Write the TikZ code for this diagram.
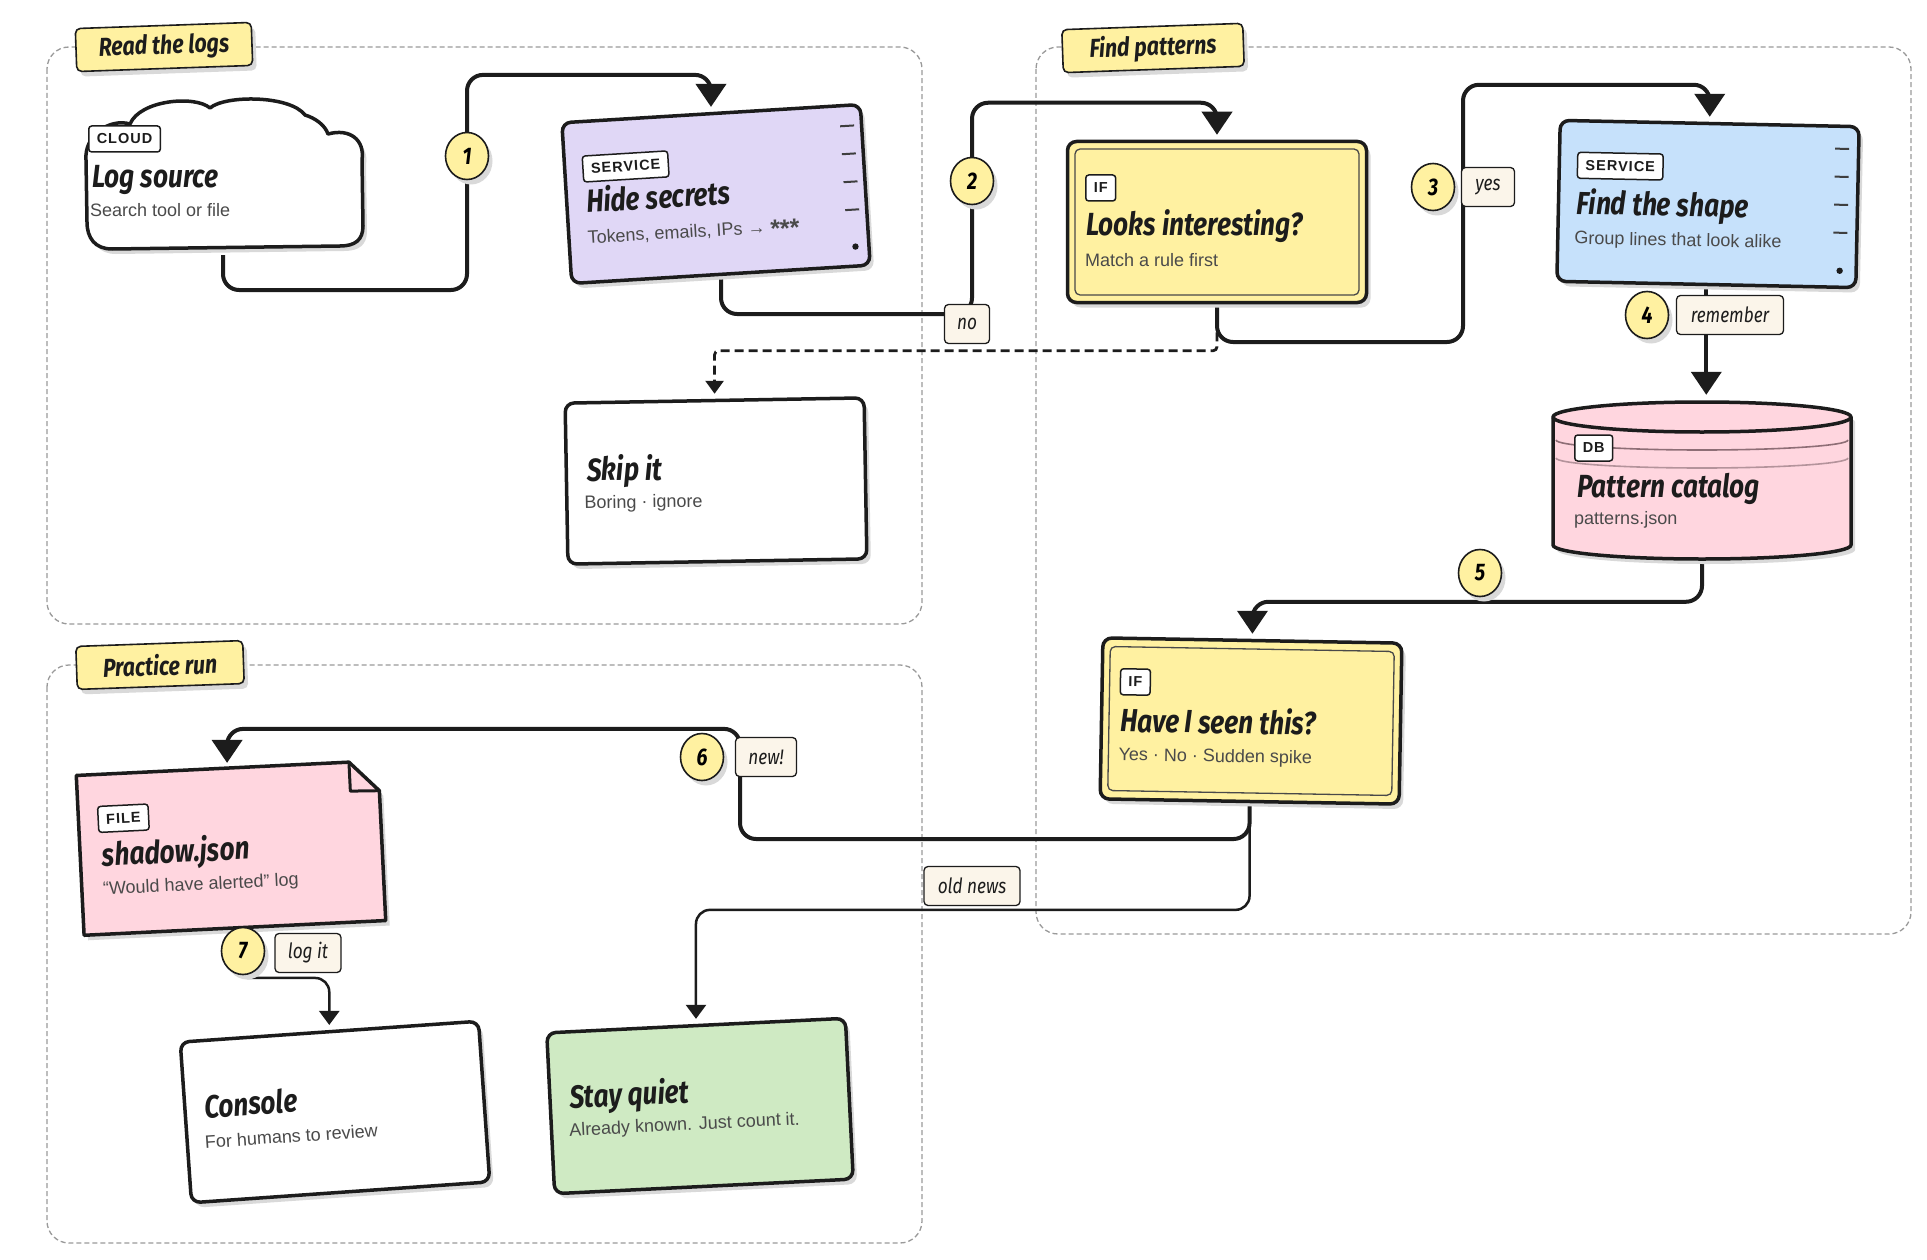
\documentclass[tikz,border=0pt]{standalone}
\usepackage{fontspec}
\setmainfont{Liberation Sans}
\newfontfamily\handfont{Fira Sans}[FakeStretch=0.82]
\usetikzlibrary{arrows.meta,shapes.geometric,shadows,calc}
\pgfdeclarelayer{bg}
\pgfdeclarelayer{lines}
\pgfsetlayers{bg,lines,main}

\definecolor{ink}{HTML}{1C1C1C}
\definecolor{yel}{HTML}{FFF1A1}
\definecolor{lav}{HTML}{E0D7F6}
\definecolor{sky}{HTML}{C6E1FB}
\definecolor{rose}{HTML}{FFD6DF}
\definecolor{rosedark}{HTML}{8E6E76}
\definecolor{roselight}{HTML}{B4939B}
\definecolor{mint}{HTML}{CFEAC3}
\definecolor{cream}{HTML}{FBF5EA}
\definecolor{subgray}{HTML}{4A4A4A}
\definecolor{grp}{HTML}{9A9A9A}
\definecolor{shd}{HTML}{D9D9D9}

\tikzset{
 softshadow/.style={drop shadow={shadow xshift=4pt, shadow yshift=-5pt, fill=shd, opacity=1}},
 card/.style={draw=ink, line width=3.5pt, rounded corners=9pt, minimum width=299pt, minimum height=161pt, inner sep=0pt, softshadow},
 ghost/.style={minimum width=300pt, minimum height=160pt, inner sep=0pt},
 pill/.style={draw=ink, fill=white, line width=1.5pt, rounded corners=3pt, inner xsep=8pt, inner ysep=0pt, minimum height=26pt, font={\bfseries\fontsize{14.5}{15}\selectfont\addfontfeature{LetterSpace=7}}, text=ink, transform shape, anchor=west},
 ttl/.style={anchor=west, inner sep=0pt, yshift=-5pt, font={\handfont\bfseries\itshape\fontsize{32}{36}\selectfont}, text=ink, transform shape, text height=22pt, text depth=6pt},
 sub/.style={anchor=west, inner sep=0pt, font={\fontsize{18}{20}\selectfont}, text=subgray, transform shape},
 tab/.style={draw=ink, fill=yel, line width=1.6pt, rounded corners=5pt, minimum height=43pt, inner xsep=14pt, font={\handfont\bfseries\itshape\fontsize{26}{30}\selectfont}, text=ink, rotate=2, softshadow},
 num/.style={ellipse, draw=ink, fill=yel, line width=1.6pt, minimum width=43pt, minimum height=47pt, inner sep=0pt, font={\handfont\bfseries\itshape\fontsize{24}{26}\selectfont}, softshadow},
 elab/.style={draw=ink, fill=cream, line width=1.3pt, rounded corners=4pt, minimum height=39pt, inner xsep=8pt, font={\handfont\itshape\fontsize{21}{24}\selectfont}, text=ink},
 group/.style={draw=grp, line width=1.3pt, dash pattern=on 5pt off 3pt, rounded corners=22pt},
 flow/.style={draw=ink, line width=4pt, rounded corners=16pt, shorten >=5pt, -{Triangle[width=30pt,length=23pt]}},
 thinflow/.style={draw=ink, line width=2.5pt, rounded corners=14pt, shorten >=5pt, -{Triangle[width=20pt,length=14pt]}},
 dashflow/.style={draw=ink, line width=2.8pt, dash pattern=on 9pt off 5pt, rounded corners=4pt, shorten >=5pt, -{Triangle[width=18pt,length=13pt]}},
 rack/.style={draw=ink!85, line width=2pt},
 innerline/.style={draw=ink!80, line width=1.3pt, rounded corners=5pt},
}
\newcommand\stars{\raisebox{-5pt}{\fontsize{25}{25}\selectfont\bfseries ***}}

\begin{document}
\begin{tikzpicture}[x=1pt,y=-1pt]
\useasboundingbox (0,0) rectangle (1927,1260);
\begin{pgfonlayer}{bg}
 \fill[white] (0,0) rectangle (1927,1260);
 \draw[group] (47,47) rectangle (922,624);
 \draw[group] (1036,47) rectangle (1911,934);
 \draw[group] (47,665) rectangle (922,1243);
\end{pgfonlayer}

% group tabs
\node[tab, minimum width=176pt] (tabA) at (164,47) {Read the logs};
\node[tab, minimum width=181pt] (tabB) at (1153,48) {Find patterns};
\node[tab, minimum width=167pt] (tabC) at (160,665) {Practice run};

% cloud: Log source
\node[inner sep=0pt, minimum width=282pt, minimum height=150pt] (cloud) at (223,180) {};
\path[draw=ink, line width=3.5pt, fill=white, softshadow, line join=round]
 (86,160) .. controls (84,135) and (110,118) .. (130,124)
 .. controls (140,100) and (195,95) .. (210,108)
 .. controls (225,95) and (290,95) .. (305,115)
 .. controls (315,118) and (325,125) .. (328,134)
 .. controls (350,128) and (365,140) .. (362,160)
 -- (363,226) .. controls (363,240) and (355,246) .. (340,246)
 -- (112,249) .. controls (95,249) and (87,238) .. (87,222)
 -- cycle;
\node[pill] (pcloud) at (88,139) {CLOUD};
\node[ttl] (tcloud) at (92,175) {Log source};
\node[sub] (scloud) at (90,210) {Search tool or file};

% Hide secrets
\node[card, fill=lav, rotate=3.5] (hide) at (716,194) {};
\begin{scope}[shift={(hide.center)}, rotate=3.5]
 \node[pill] (phide) at (-132,-33) {SERVICE};
 \node[ttl] (thide) at (-130,-2) {Hide secrets};
 \node[sub] (shide) at (-131,38) {Tokens, emails, IPs → \stars};
 \foreach \yy in {-60,-32,-4,24} \draw[rack] (128,\yy) -- (142,\yy);
 \fill[ink] (136,61) circle[radius=3.2pt];
\end{scope}

% Skip it
\node[card, fill=white, rotate=1] (skip) at (716,481) {};
\begin{scope}[shift={(skip.center)}, rotate=1]
 \node[ttl] (tskip) at (-129,-15) {Skip it};
 \node[sub] (sskip) at (-132,21) {Boring · ignore};
\end{scope}

% Looks interesting?
\node[card, fill=yel] (looks) at (1217,222) {};
\begin{scope}[shift={(looks.center)}]
 \draw[innerline] (-142,-73) rectangle (142,73);
 \node[pill] (plooks) at (-132,-34) {IF};
 \node[ttl] (tlooks) at (-131,1) {Looks interesting?};
 \node[sub] (slooks) at (-132,38) {Match a rule first};
\end{scope}

% Find the shape
\node[card, fill=sky, rotate=-1.2] (shape) at (1708,204) {};
\begin{scope}[shift={(shape.center)}, rotate=-1.2]
 \node[pill] (pshape) at (-132,-36) {SERVICE};
 \node[ttl] (tshape) at (-131,0) {Find the shape};
 \node[sub] (sshape) at (-133,38) {Group lines that look alike};
 \foreach \yy in {-58,-30,-2,26} \draw[rack] (126,\yy) -- (140,\yy);
 \fill[ink] (133,64) circle[radius=3.2pt];
\end{scope}

% Pattern catalog (cylinder)
\node[inner sep=0pt, minimum width=298pt, minimum height=160pt] (catalog) at (1702,480) {};
\path[draw=ink, line width=3.5pt, fill=rose, softshadow, line join=round]
 (1553,417) -- (1553,545) arc[start angle=180, end angle=360, x radius=149pt, y radius=14pt]
 -- (1851,417) arc[start angle=0, end angle=180, x radius=149pt, y radius=15pt] -- cycle;
\draw[ink, line width=3.5pt] (1553,417) arc[start angle=180, end angle=360, x radius=149pt, y radius=15pt];
\draw[rosedark, line width=1.6pt] (1556,440) arc[start angle=180, end angle=360, x radius=146pt, y radius=10pt];
\draw[roselight, line width=1.6pt] (1556,458) arc[start angle=180, end angle=360, x radius=146pt, y radius=10pt];
\node[pill] (pcat) at (1574,448) {DB};
\node[ttl] (tcat) at (1577,484) {Pattern catalog};
\node[sub] (scat) at (1574,520) {patterns.json};

% Have I seen this?
\node[card, fill=yel, rotate=-1] (seen) at (1251,721) {};
\begin{scope}[shift={(seen.center)}, rotate=-1]
 \draw[innerline] (-142,-72) rectangle (142,72);
 \node[pill] (pseen) at (-132,-37) {IF};
 \node[ttl] (tseen) at (-131,0) {Have I seen this?};
 \node[sub] (sseen) at (-132,37) {Yes · No · Sudden spike};
\end{scope}

% shadow.json (file)
\node[ghost, rotate=2.8] (shadowf) at (231,848) {};
\begin{scope}[shift={(shadowf.center)}, rotate=2.8]
 \path[draw=ink, line width=3.5pt, fill=rose, line join=round, softshadow]
   (-151,-80) -- (122,-80) -- (151,-50) -- (151,80) -- (-151,80) -- cycle;
 \draw[ink, line width=3pt, line join=round] (122,-80) -- (122,-51) -- (151,-50);
 \node[pill] (pfile) at (-132,-35) {FILE};
 \node[ttl] (tfile) at (-129,-1) {shadow.json};
 \node[sub] (sfile) at (-130,36) {“Would have alerted” log};
\end{scope}

% Console
\node[card, fill=white, rotate=4] (console) at (335,1112) {};
\begin{scope}[shift={(console.center)}, rotate=4]
 \node[ttl] (tcons) at (-130,-16) {Console};
 \node[sub] (scons) at (-132,21) {For humans to review};
\end{scope}

% Stay quiet
\node[card, fill=mint, rotate=2.8] (stay) at (700,1106) {};
\begin{scope}[shift={(stay.center)}, rotate=2.8]
 \node[ttl] (tstay) at (-130,-17) {Stay quiet};
 \node[sub] (sstay) at (-132,19) {Already known. Just count it.};
\end{scope}

% connectors
\begin{pgfonlayer}{lines}
 \draw[flow] (cloud.south) |- (467,290) |- ([yshift=37pt]hide.north) -- (hide.north);
 \draw[flow] (hide.south) |- (972,314) |- ([yshift=37pt]looks.north) -- (looks.north);
 \draw[dashflow] (looks.south) |- ([yshift=48pt]skip.north) -- (skip.north);
 \draw[flow] (looks.south) |- (1463,342) |- ([yshift=37pt]shape.north) -- (shape.north);
 \draw[flow] (shape.south) -- (shape.south |- catalog.north);
 \draw[flow] (catalog.south) |- ([yshift=37pt]seen.north) -- (seen.north);
 \draw[flow] (seen.south) |- (740,839) |- ([yshift=39pt]shadowf.north) -- (shadowf.north);
 \draw[thinflow] (seen.south) |- ([yshift=114pt]stay.north) -- (stay.north);
 \draw[thinflow] (shadowf.south) |- ([yshift=52pt]console.north) -- (console.north);
\end{pgfonlayer}

% step numbers
\node[num] (n1) at (467,156) {1};
\node[num] (n2) at (972,181) {2};
\node[num] (n3) at (1433,187) {3};
\node[num] (n4) at (1647,315) {4};
\node[num] (n5) at (1480,573) {5};
\node[num] (n6) at (702,757) {6};
\node[num] (n7) at (243,951) {7};

% edge labels
\node[elab, minimum width=53pt] (lyes) at (1488,187) {yes};
\node[elab, minimum width=45pt] (lno) at (967,324) {no};
\node[elab, minimum width=107pt] (lrem) at (1730,315) {remember};
\node[elab, minimum width=61pt] (lnew) at (766,757) {new!};
\node[elab, minimum width=96pt] (lold) at (972,886) {old news};
\node[elab, minimum width=66pt] (llog) at (308,953) {log it};
\end{tikzpicture}
\end{document}
